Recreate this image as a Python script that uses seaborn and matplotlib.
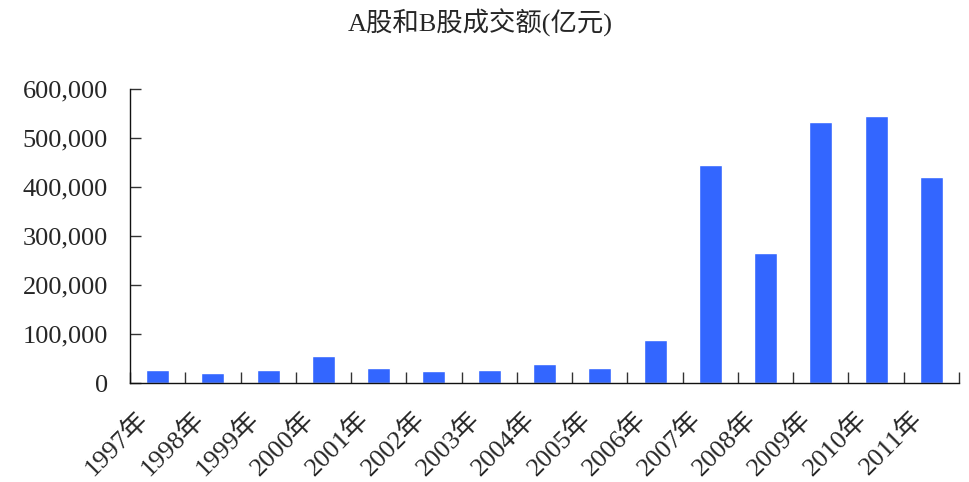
import matplotlib
matplotlib.use("Agg")
import matplotlib.pyplot as plt
import matplotlib.transforms as mtransforms
import seaborn as sns
import pandas as pd

# A-share and B-share turnover by year (100 million yuan)
years = ["1997年", "1998年", "1999年", "2000年", "2001年", "2002年", "2003年",
         "2004年", "2005年", "2006年", "2007年", "2008年", "2009年", "2010年", "2011年"]
turnover = [26500, 20500, 26500, 55700, 30600, 24500, 26500,
            38700, 30600, 88000, 445000, 265600, 532700, 545000, 420600]
y_ticks = [0, 100000, 200000, 300000, 400000, 500000, 600000]
title = "A股和B股成交额(亿元)"

sns.set_style("white")
plt.rcParams["font.family"] = ["Liberation Serif", "Noto Sans CJK SC", "DejaVu Sans"]

df = pd.DataFrame({"year": years, "turnover": turnover})

fig = plt.figure(figsize=(9.69, 4.82), dpi=100)
ax = fig.add_axes([130 / 969, 1 - 383 / 482, (959 - 130) / 969, (383 - 89) / 482])

sns.barplot(data=df, x="year", y="turnover", color="#3366FF", saturation=1,
            width=0.417, ax=ax)

ax.set_xlim(-0.5, len(years) - 0.5)
ax.set_ylim(0, 600000)
ax.set_xlabel("")
ax.set_ylabel("")

# category boundary ticks (major), labels on centre ticks (minor)
ax.set_xticks([i - 0.5 for i in range(len(years) + 1)])
ax.set_xticklabels([])
ax.set_xticks(range(len(years)), minor=True)
ax.set_xticklabels(years, minor=True, rotation=45, ha="right", va="center",
                   rotation_mode="anchor", fontsize=19)
ax.tick_params(axis="x", which="major", bottom=True, direction="in", length=8,
               width=1, color="#333333")
ax.tick_params(axis="x", which="minor", bottom=True, length=0, pad=23.5)
shift = mtransforms.ScaledTranslation(-13 / 100, 0, fig.dpi_scale_trans)
for lbl in ax.get_xticklabels(minor=True):
    lbl.set_transform(lbl.get_transform() + shift)

ax.set_yticks(y_ticks)
ax.set_yticklabels([f"{v:,}" for v in y_ticks], fontsize=19)
ax.tick_params(axis="y", left=True, direction="in", length=8, width=1,
               color="#333333", pad=16)

for side in ("top", "right"):
    ax.spines[side].set_visible(False)
for side in ("left", "bottom"):
    ax.spines[side].set_color("#111111")
    ax.spines[side].set_linewidth(1)

fig.text(480 / 969, 1 - 23 / 482, title, ha="center", va="center", fontsize=19)

fig.savefig("out.png", dpi=100)
